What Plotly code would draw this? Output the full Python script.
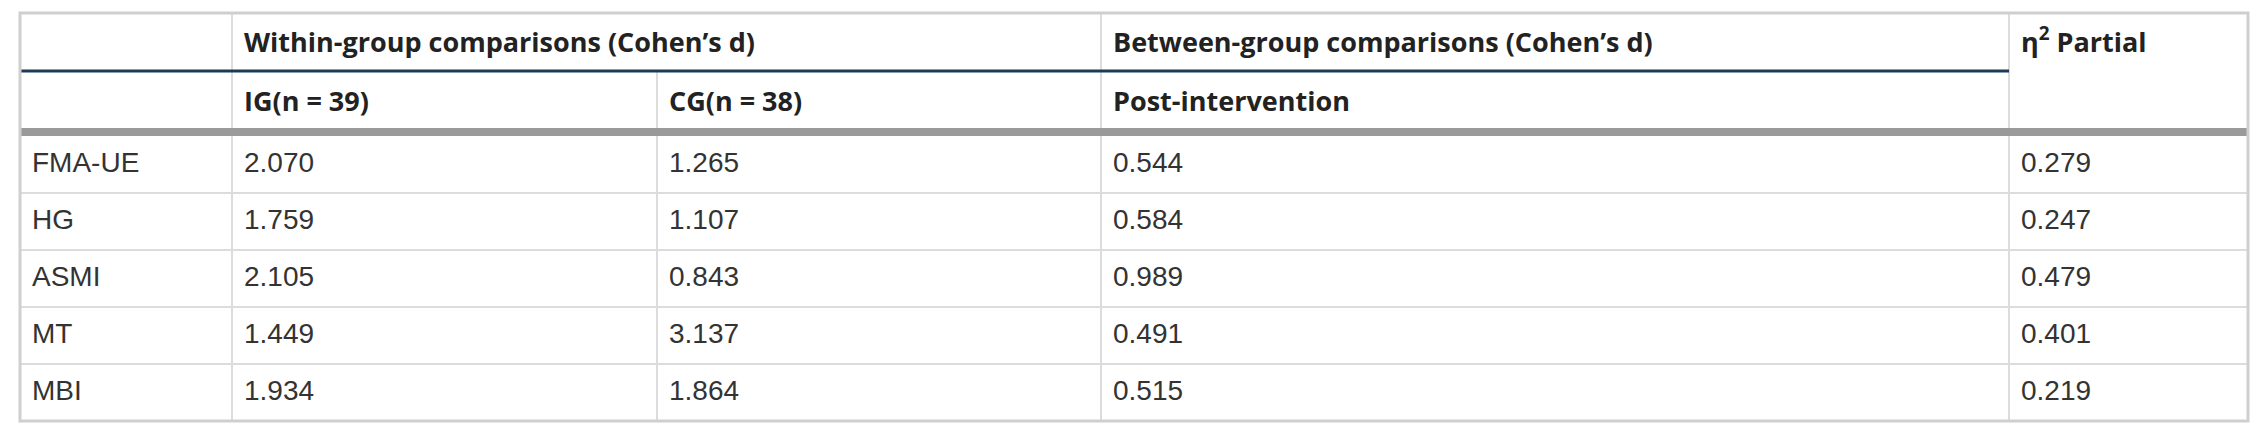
import plotly.graph_objects as go

# table content
measures = ["FMA-UE", "HG", "ASMI", "MT", "MBI"]
ig_d = [2.070, 1.759, 2.105, 1.449, 1.934]
cg_d = [1.265, 1.107, 0.843, 3.137, 1.864]
between_d = [0.544, 0.584, 0.989, 0.491, 0.515]
eta_partial = [0.279, 0.247, 0.479, 0.401, 0.219]

top_headers = ["Within-group comparisons (Cohen’s d)",
               "Between-group comparisons (Cohen’s d)",
               "η<sup>2</sup> Partial"]
sub_headers = ["IG(n = 39)", "CG(n = 38)", "Post-intervention"]

W, H = 2264, 436
OFF = 8  # page body margin around the plot div

# grid geometry (page pixels)
col_x = [20, 232, 657, 1101, 2009, 2248]
top_y = 13
head_line_y = 71
body_top = 136
row_h = 57
pad = 12

fig = go.Figure()

# body rows
row_mid = [body_top + row_h * (i + 0.5) for i in range(len(measures))]
columns = [measures,
           [f"{v:.3f}" for v in ig_d],
           [f"{v:.3f}" for v in cg_d],
           [f"{v:.3f}" for v in between_d],
           [f"{v:.3f}" for v in eta_partial]]
for c, vals in enumerate(columns):
    fig.add_trace(go.Scatter(
        x=[col_x[c] + pad] * len(vals), y=row_mid, text=vals,
        mode="text", textposition="middle right",
        textfont=dict(family="Liberation Sans, Arial", size=28, color="#333333"),
        hoverinfo="skip"))

# header rows
head_font = dict(family="Open Sans", size=27, color="#222222", weight="bold")
fig.add_trace(go.Scatter(
    x=[col_x[1] + pad, col_x[3] + pad, col_x[4] + pad],
    y=[45, 45, 45], text=top_headers,
    mode="text", textposition="middle right", textfont=head_font,
    hoverinfo="skip"))
fig.add_trace(go.Scatter(
    x=[col_x[1] + pad, col_x[2] + pad, col_x[3] + pad],
    y=[104, 104, 104], text=sub_headers,
    mode="text", textposition="middle right", textfont=head_font,
    hoverinfo="skip"))

grid = "#dcdcdc"
border = "#cfcfcf"
bottom = body_top + row_h * len(measures)


def hline(y, x0, x1, color, width):
    fig.add_shape(type="line", x0=x0, x1=x1, y0=y, y1=y, xref="x", yref="y",
                  line=dict(color=color, width=width), layer="below")


def vline(x, y0, y1, color, width):
    fig.add_shape(type="line", x0=x, x1=x, y0=y0, y1=y1, xref="x", yref="y",
                  line=dict(color=color, width=width), layer="below")


# inner verticals
vline(col_x[1], top_y, bottom, grid, 2)
vline(col_x[2], head_line_y, bottom, grid, 2)
vline(col_x[3], top_y, bottom, grid, 2)
vline(col_x[4], top_y, bottom, grid, 2)

# row separators
for i in range(1, len(measures)):
    hline(body_top + row_h * i, col_x[0], col_x[-1], grid, 2)

# header rules
hline(head_line_y, col_x[0], col_x[4], "#1b3a57", 3)
hline(body_top - 4, col_x[0], col_x[-1], "#9a9a9a", 8)

# outer border
fig.add_shape(type="rect", x0=col_x[0], x1=col_x[-1], y0=top_y, y1=bottom,
              xref="x", yref="y", line=dict(color=border, width=3), layer="below")

fig.update_layout(
    width=W - 2 * OFF, height=H - 2 * OFF,
    margin=dict(l=0, r=0, t=0, b=0),
    paper_bgcolor="white", plot_bgcolor="white",
    showlegend=False,
    xaxis=dict(range=[OFF, W - OFF], visible=False, fixedrange=True),
    yaxis=dict(range=[H - OFF, OFF], visible=False, fixedrange=True),
)

fig.write_html("out.html", config={"displayModeBar": False})
